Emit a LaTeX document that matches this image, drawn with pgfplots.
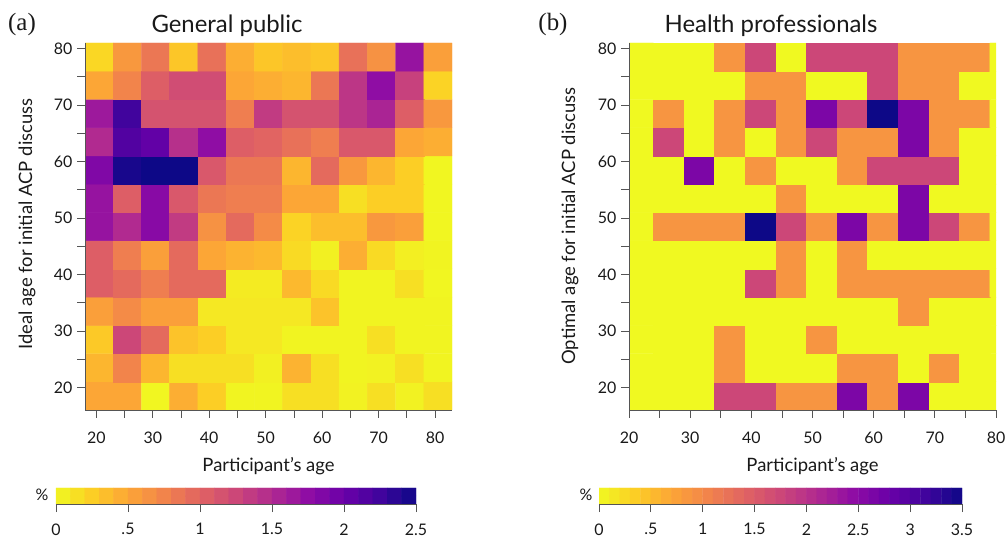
\documentclass[border=0pt]{standalone}
\usepackage{pgfplots}
\pgfplotsset{compat=1.18}
\usepackage{fontspec}
\setmainfont{Lato}
\newfontfamily\panelfont{Liberation Serif}

\definecolor{axisgray}{RGB}{85,85,85}
\definecolor{textdark}{RGB}{25,25,25}

\pgfplotsset{
  colormap={plasmarev}{rgb255=(240,249,33) rgb255=(252,206,37) rgb255=(252,166,54)
    rgb255=(242,132,75) rgb255=(225,100,98) rgb255=(204,71,120) rgb255=(177,42,144)
    rgb255=(143,13,164) rgb255=(106,0,168) rgb255=(65,4,157) rgb255=(13,8,135)},
  heat/.style={
    scale only axis, width=367bp, height=367bp,
    anchor=south west,
    ymin=16, ymax=81,
    enlargelimits=false,
    axis on top,
    axis x line*=bottom, axis y line*=left,
    axis line style={draw=axisgray, line width=0.8bp},
    tick style={draw=axisgray, line width=0.8bp},
    tick align=outside,
    major tick length=8bp, minor tick length=8bp,
    xtick={20,30,...,80}, minor xtick={25,35,...,75},
    ytick={20,30,...,80}, minor ytick={25,35,...,75},
    ticklabel style={font=\fontsize{16}{16}\selectfont, text=textdark},
    xticklabel style={yshift=-10bp},
    yticklabel style={xshift=-1bp},
    /pgf/number format/assume math mode=true,
    colormap name=plasmarev,
  },
  % colour key drawn as its own strip of bands
  cbar/.style={
    scale only axis, height=16bp,
    anchor=south west,
    ymin=0, ymax=1, enlargelimits=false,
    axis on top,
    axis x line*=bottom, axis y line=none,
    axis line style={draw=axisgray, line width=0.8bp},
    tick style={draw=axisgray, line width=0.8bp},
    tick align=outside, major tick length=8bp,
    xticklabel style={font=\fontsize{16}{16}\selectfont, text=textdark, yshift=-8bp},
    colormap name=plasmarev,
  },
}
\tikzset{
  ttl/.style={font=\fontsize{24}{24}\selectfont, text=textdark, anchor=base},
  lab/.style={font=\fontsize{18.5}{18.5}\selectfont, text=textdark, anchor=base},
}

\begin{document}
\begin{tikzpicture}
\useasboundingbox (0,0) rectangle (1008bp,539bp);

% (a) general public: share of respondents by own age and ideal age
\begin{axis}[heat, at={(85bp,129bp)}, xmin=18, xmax=83,
  point meta min=0, point meta max=2.5]
\addplot[matrix plot*, mesh/cols=13, point meta=explicit] coordinates {
(20.5,18.5)[0.5] (25.5,18.5)[0.5] (30.5,18.5)[0.02] (35.5,18.5)[0.45] (40.5,18.5)[0.25] (45.5,18.5)[0.03] (50.5,18.5)[0.03] (55.5,18.5)[0.15] (60.5,18.5)[0.15] (65.5,18.5)[0.04] (70.5,18.5)[0.15] (75.5,18.5)[0.04] (80.5,18.5)[0.15]
(20.5,23.5)[0.4] (25.5,23.5)[0.75] (30.5,23.5)[0.4] (35.5,23.5)[0.15] (40.5,23.5)[0.15] (45.5,23.5)[0.15] (50.5,23.5)[0.05] (55.5,23.5)[0.42] (60.5,23.5)[0.15] (65.5,23.5)[0.03] (70.5,23.5)[0.04] (75.5,23.5)[0.15] (80.5,23.5)[0.03]
(20.5,28.5)[0.28] (25.5,28.5)[1.25] (30.5,28.5)[0.95] (35.5,28.5)[0.32] (40.5,28.5)[0.25] (45.5,28.5)[0.1] (50.5,28.5)[0.1] (55.5,28.5)[0.03] (60.5,28.5)[0.03] (65.5,28.5)[0.03] (70.5,28.5)[0.15] (75.5,28.5)[0.03] (80.5,28.5)[0.03]
(20.5,33.5)[0.55] (25.5,33.5)[0.7] (30.5,33.5)[0.55] (35.5,33.5)[0.55] (40.5,33.5)[0.1] (45.5,33.5)[0.1] (50.5,33.5)[0.1] (55.5,33.5)[0.1] (60.5,33.5)[0.32] (65.5,33.5)[0.03] (70.5,33.5)[0.03] (75.5,33.5)[0.03] (80.5,33.5)[0.03]
(20.5,38.5)[1.05] (25.5,38.5)[0.95] (30.5,38.5)[0.8] (35.5,38.5)[0.95] (40.5,38.5)[0.95] (45.5,38.5)[0.08] (50.5,38.5)[0.08] (55.5,38.5)[0.38] (60.5,38.5)[0.18] (65.5,38.5)[0.03] (70.5,38.5)[0.03] (75.5,38.5)[0.15] (80.5,38.5)[0.02]
(20.5,43.5)[1.05] (25.5,43.5)[0.8] (30.5,43.5)[0.55] (35.5,43.5)[0.95] (40.5,43.5)[0.5] (45.5,43.5)[0.42] (50.5,43.5)[0.38] (55.5,43.5)[0.18] (60.5,43.5)[0.05] (65.5,43.5)[0.45] (70.5,43.5)[0.18] (75.5,43.5)[0.06] (80.5,43.5)[0.03]
(20.5,48.5)[1.7] (25.5,48.5)[1.5] (30.5,48.5)[1.8] (35.5,48.5)[1.35] (40.5,48.5)[0.65] (45.5,48.5)[0.95] (50.5,48.5)[0.7] (55.5,48.5)[0.22] (60.5,48.5)[0.35] (65.5,48.5)[0.35] (70.5,48.5)[0.6] (75.5,48.5)[0.55] (80.5,48.5)[0.02]
(20.5,53.5)[1.7] (25.5,53.5)[1.05] (30.5,53.5)[1.8] (35.5,53.5)[1.1] (40.5,53.5)[0.85] (45.5,53.5)[0.8] (50.5,53.5)[0.8] (55.5,53.5)[0.5] (60.5,53.5)[0.5] (65.5,53.5)[0.15] (70.5,53.5)[0.25] (75.5,53.5)[0.25] (80.5,53.5)[0.02]
(20.5,58.5)[1.85] (25.5,58.5)[2.45] (30.5,58.5)[2.5] (35.5,58.5)[2.5] (40.5,58.5)[1.1] (45.5,58.5)[0.85] (50.5,58.5)[0.85] (55.5,58.5)[0.4] (60.5,58.5)[0.95] (65.5,58.5)[0.6] (70.5,58.5)[0.4] (75.5,58.5)[0.25] (80.5,58.5)[0.02]
(20.5,63.5)[1.5] (25.5,63.5)[2.15] (30.5,63.5)[2.05] (35.5,63.5)[1.45] (40.5,63.5)[1.75] (45.5,63.5)[1.05] (50.5,63.5)[1.0] (55.5,63.5)[0.9] (60.5,63.5)[0.8] (65.5,63.5)[1.1] (70.5,63.5)[1.1] (75.5,63.5)[0.5] (80.5,63.5)[0.45]
(20.5,68.5)[1.65] (25.5,68.5)[2.25] (30.5,68.5)[1.15] (35.5,68.5)[1.15] (40.5,68.5)[1.15] (45.5,68.5)[0.8] (50.5,68.5)[1.35] (55.5,68.5)[1.15] (60.5,68.5)[1.15] (65.5,68.5)[1.4] (70.5,68.5)[1.55] (75.5,68.5)[1.05] (80.5,68.5)[0.6]
(20.5,73.5)[0.5] (25.5,73.5)[0.75] (30.5,73.5)[1.05] (35.5,73.5)[1.2] (40.5,73.5)[1.2] (45.5,73.5)[0.5] (50.5,73.5)[0.45] (55.5,73.5)[0.4] (60.5,73.5)[0.85] (65.5,73.5)[1.4] (70.5,73.5)[1.75] (75.5,73.5)[1.3] (80.5,73.5)[0.22]
(20.5,78.5)[0.2] (25.5,78.5)[0.6] (30.5,78.5)[0.85] (35.5,78.5)[0.3] (40.5,78.5)[0.9] (45.5,78.5)[0.45] (50.5,78.5)[0.3] (55.5,78.5)[0.35] (60.5,78.5)[0.3] (65.5,78.5)[0.9] (70.5,78.5)[0.65] (75.5,78.5)[1.7] (80.5,78.5)[0.55]
};
\end{axis}

% colour key for (a): 25 bands of 0.1
\begin{axis}[cbar, at={(56bp,35bp)}, width=360bp, xmin=0, xmax=2.5,
  point meta min=0, point meta max=2.5,
  xtick={0,0.5,1,1.5,2,2.5}, xticklabels={0,.5,1,1.5,2,2.5}]
\addplot[matrix plot*, mesh/cols=25, point meta=x] coordinates {
(0.05,0.25) (0.15,0.25) (0.25,0.25) (0.35,0.25) (0.45,0.25) (0.55,0.25) (0.65,0.25) (0.75,0.25) (0.85,0.25) (0.95,0.25) (1.05,0.25) (1.15,0.25) (1.25,0.25) (1.35,0.25) (1.45,0.25) (1.55,0.25) (1.65,0.25) (1.75,0.25) (1.85,0.25) (1.95,0.25) (2.05,0.25) (2.15,0.25) (2.25,0.25) (2.35,0.25) (2.45,0.25)
(0.05,0.75) (0.15,0.75) (0.25,0.75) (0.35,0.75) (0.45,0.75) (0.55,0.75) (0.65,0.75) (0.75,0.75) (0.85,0.75) (0.95,0.75) (1.05,0.75) (1.15,0.75) (1.25,0.75) (1.35,0.75) (1.45,0.75) (1.55,0.75) (1.65,0.75) (1.75,0.75) (1.85,0.75) (1.95,0.75) (2.05,0.75) (2.15,0.75) (2.25,0.75) (2.35,0.75) (2.45,0.75)
};
\end{axis}

% (b) health professionals
\begin{axis}[heat, at={(629bp,129bp)}, xmin=20, xmax=80,
  point meta min=0, point meta max=3.5]
\addplot[matrix plot*, mesh/cols=13, point meta=explicit] coordinates {
(21.5,18.5)[0] (26.5,18.5)[0] (31.5,18.5)[0] (36.5,18.5)[1.75] (41.5,18.5)[1.75] (46.5,18.5)[0.88] (51.5,18.5)[0.88] (56.5,18.5)[2.63] (61.5,18.5)[0.88] (66.5,18.5)[2.63] (71.5,18.5)[0] (76.5,18.5)[0] (81.5,18.5)[0]
(21.5,23.5)[0] (26.5,23.5)[0] (31.5,23.5)[0] (36.5,23.5)[0.88] (41.5,23.5)[0] (46.5,23.5)[0] (51.5,23.5)[0] (56.5,23.5)[0.88] (61.5,23.5)[0.88] (66.5,23.5)[0] (71.5,23.5)[0.88] (76.5,23.5)[0] (81.5,23.5)[0]
(21.5,28.5)[0] (26.5,28.5)[0] (31.5,28.5)[0] (36.5,28.5)[0.88] (41.5,28.5)[0] (46.5,28.5)[0] (51.5,28.5)[0.88] (56.5,28.5)[0] (61.5,28.5)[0] (66.5,28.5)[0] (71.5,28.5)[0] (76.5,28.5)[0] (81.5,28.5)[0]
(21.5,33.5)[0] (26.5,33.5)[0] (31.5,33.5)[0] (36.5,33.5)[0] (41.5,33.5)[0] (46.5,33.5)[0] (51.5,33.5)[0] (56.5,33.5)[0] (61.5,33.5)[0] (66.5,33.5)[0.88] (71.5,33.5)[0] (76.5,33.5)[0] (81.5,33.5)[0]
(21.5,38.5)[0] (26.5,38.5)[0] (31.5,38.5)[0] (36.5,38.5)[0] (41.5,38.5)[1.75] (46.5,38.5)[0.88] (51.5,38.5)[0] (56.5,38.5)[0.88] (61.5,38.5)[0.88] (66.5,38.5)[0.88] (71.5,38.5)[0.88] (76.5,38.5)[0.88] (81.5,38.5)[0]
(21.5,43.5)[0] (26.5,43.5)[0] (31.5,43.5)[0] (36.5,43.5)[0] (41.5,43.5)[0] (46.5,43.5)[0.88] (51.5,43.5)[0] (56.5,43.5)[0.88] (61.5,43.5)[0] (66.5,43.5)[0] (71.5,43.5)[0] (76.5,43.5)[0] (81.5,43.5)[0]
(21.5,48.5)[0] (26.5,48.5)[0.88] (31.5,48.5)[0.88] (36.5,48.5)[0.88] (41.5,48.5)[3.5] (46.5,48.5)[1.75] (51.5,48.5)[0.88] (56.5,48.5)[2.63] (61.5,48.5)[0.88] (66.5,48.5)[2.63] (71.5,48.5)[1.75] (76.5,48.5)[0.88] (81.5,48.5)[0]
(21.5,53.5)[0] (26.5,53.5)[0] (31.5,53.5)[0] (36.5,53.5)[0] (41.5,53.5)[0] (46.5,53.5)[0.88] (51.5,53.5)[0] (56.5,53.5)[0] (61.5,53.5)[0] (66.5,53.5)[2.63] (71.5,53.5)[0] (76.5,53.5)[0] (81.5,53.5)[0]
(21.5,58.5)[0] (26.5,58.5)[0] (31.5,58.5)[2.63] (36.5,58.5)[0] (41.5,58.5)[0.88] (46.5,58.5)[0] (51.5,58.5)[0] (56.5,58.5)[0.88] (61.5,58.5)[1.75] (66.5,58.5)[1.75] (71.5,58.5)[1.75] (76.5,58.5)[0] (81.5,58.5)[0]
(21.5,63.5)[0] (26.5,63.5)[1.75] (31.5,63.5)[0] (36.5,63.5)[0.88] (41.5,63.5)[0] (46.5,63.5)[0.88] (51.5,63.5)[1.75] (56.5,63.5)[0.88] (61.5,63.5)[0.88] (66.5,63.5)[2.63] (71.5,63.5)[0.88] (76.5,63.5)[0] (81.5,63.5)[0]
(21.5,68.5)[0] (26.5,68.5)[0.88] (31.5,68.5)[0] (36.5,68.5)[0.88] (41.5,68.5)[1.75] (46.5,68.5)[0.88] (51.5,68.5)[2.63] (56.5,68.5)[1.75] (61.5,68.5)[3.5] (66.5,68.5)[2.63] (71.5,68.5)[0.88] (76.5,68.5)[0.88] (81.5,68.5)[0]
(21.5,73.5)[0] (26.5,73.5)[0] (31.5,73.5)[0] (36.5,73.5)[0] (41.5,73.5)[0.88] (46.5,73.5)[0.88] (51.5,73.5)[0] (56.5,73.5)[0] (61.5,73.5)[1.75] (66.5,73.5)[0.88] (71.5,73.5)[0.88] (76.5,73.5)[0] (81.5,73.5)[0]
(21.5,78.5)[0] (26.5,78.5)[0] (31.5,78.5)[0] (36.5,78.5)[0.88] (41.5,78.5)[1.75] (46.5,78.5)[0] (51.5,78.5)[1.75] (56.5,78.5)[1.75] (61.5,78.5)[1.75] (66.5,78.5)[0.88] (71.5,78.5)[0.88] (76.5,78.5)[0.88] (81.5,78.5)[0]
};
\end{axis}

% colour key for (b): 35 bands of 0.1
\begin{axis}[cbar, at={(599bp,35bp)}, width=363bp, xmin=0, xmax=3.5,
  point meta min=0, point meta max=3.5,
  xtick={0,0.5,1,1.5,2,2.5,3,3.5}, xticklabels={0,.5,1,1.5,2,2.5,3,3.5}]
\addplot[matrix plot*, mesh/cols=35, point meta=x] coordinates {
(0.05,0.25) (0.15,0.25) (0.25,0.25) (0.35,0.25) (0.45,0.25) (0.55,0.25) (0.65,0.25) (0.75,0.25) (0.85,0.25) (0.95,0.25) (1.05,0.25) (1.15,0.25) (1.25,0.25) (1.35,0.25) (1.45,0.25) (1.55,0.25) (1.65,0.25) (1.75,0.25) (1.85,0.25) (1.95,0.25) (2.05,0.25) (2.15,0.25) (2.25,0.25) (2.35,0.25) (2.45,0.25) (2.55,0.25) (2.65,0.25) (2.75,0.25) (2.85,0.25) (2.95,0.25) (3.05,0.25) (3.15,0.25) (3.25,0.25) (3.35,0.25) (3.45,0.25)
(0.05,0.75) (0.15,0.75) (0.25,0.75) (0.35,0.75) (0.45,0.75) (0.55,0.75) (0.65,0.75) (0.75,0.75) (0.85,0.75) (0.95,0.75) (1.05,0.75) (1.15,0.75) (1.25,0.75) (1.35,0.75) (1.45,0.75) (1.55,0.75) (1.65,0.75) (1.75,0.75) (1.85,0.75) (1.95,0.75) (2.05,0.75) (2.15,0.75) (2.25,0.75) (2.35,0.75) (2.45,0.75) (2.55,0.75) (2.65,0.75) (2.75,0.75) (2.85,0.75) (2.95,0.75) (3.05,0.75) (3.15,0.75) (3.25,0.75) (3.35,0.75) (3.45,0.75)
};
\end{axis}

% panel letters, titles and axis titles
\node[ttl, font=\panelfont\fontsize{25}{25}\selectfont] at (22bp,508bp) {(a)};
\node[ttl] at (227bp,506bp) {General public};
\node[ttl, font=\panelfont\fontsize{25}{25}\selectfont] at (553bp,508bp) {(b)};
\node[ttl] at (771bp,506bp) {Health professionals};
\node[lab] at (268.5bp,67bp) {Participant's age};
\node[lab] at (812.5bp,67bp) {Participant's age};
\node[lab, rotate=90] at (32bp,315bp) {Ideal age for initial ACP discuss};
\node[lab, rotate=90] at (575bp,313bp) {Optimal age for initial ACP discuss};
\node[font=\fontsize{16}{16}\selectfont, text=textdark] at (42bp,44bp) {\%};
\node[font=\fontsize{16}{16}\selectfont, text=textdark] at (586bp,44bp) {\%};
\end{tikzpicture}
\end{document}
